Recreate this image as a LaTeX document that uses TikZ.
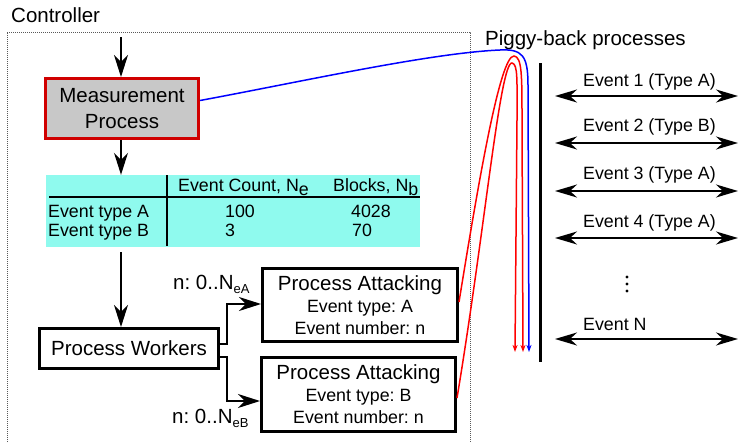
\documentclass[tikz,border=0pt]{standalone}
\usepackage{fontspec}
\setmainfont{Liberation Sans}
\usetikzlibrary{arrows.meta}
\frenchspacing

\definecolor{tablecyan}{RGB}{143,250,238}
\definecolor{procgray}{RGB}{200,200,200}
\definecolor{boxred}{RGB}{208,0,0}

\newcommand{\lblbig}{\fontsize{20.5}{26}\selectfont}
\newcommand{\lblsmall}{\fontsize{17.8}{22}\selectfont}
\newcommand{\lblsub}[1]{{\fontsize{13}{13}\selectfont\raisebox{-4pt}{#1}}}
\newcommand{\lowsub}[1]{\raisebox{-4pt}{#1}}

\begin{document}
\begin{tikzpicture}[x=1pt,y=-1pt,
  frame/.style={draw, line width=3pt, inner sep=0pt},
  flow/.style={-{Stealth[length=22pt,width=14pt,inset=7pt]}, line width=1.5pt},
  evarrow/.style={{Stealth[length=22pt,width=13pt,inset=7pt]}-{Stealth[length=22pt,width=13pt,inset=7pt]}, line width=2pt},
  piggy/.style={line width=1.5pt, -{Stealth[length=7pt,width=5pt,inset=2pt]}},
  txt/.style={anchor=base west, inner sep=0pt, font=\lblsmall},
  bigtxt/.style={anchor=base west, inner sep=0pt, font=\lblbig}]
\useasboundingbox (0,0) rectangle (739,442);

% controller frame
\draw[line width=1pt, gray!70!black, dash pattern=on 1pt off 1pt] (7,446) |- (470,32) -- (470,446);
\node[bigtxt] (ctl) at (11,22) {Controller};

% measurement process
\coordinate (in) at (121,37);
\node[frame, draw=boxred, fill=procgray, minimum width=153pt, minimum height=60pt,
      align=center, font=\lblbig] (mp) at (122,108.5) {Measurement\\Process};
\draw[flow] (in) -- (in |- mp.north);

% event table
\node[fill=tablecyan, minimum width=374pt, minimum height=72pt, inner sep=0pt] (tab) at (233,211) {};
\draw[line width=1.5pt] (167,175) -- (167,246);
\draw[line width=1.5pt] (49,197) -- (420,197);
\node[txt] (h1) at (178,191) {Event Count, N\lowsub{e}};
\node[txt] (h2) at (333,191) {Blocks, N\lowsub{b}};
\node[txt] (ra) at (48,217) {Event type A};
\node[txt] (rb) at (48,236) {Event type B};
\node[txt] (ca) at (225,217) {100};
\node[txt] (cb) at (225,236) {3};
\node[txt] (ba) at (351,217) {4028};
\node[txt] (bb) at (352,236) {70};
\draw[flow] (in |- mp.south) -- (in |- tab.north);

% workers
\node[frame, minimum width=179pt, minimum height=40pt, font=\lblbig] (pw) at (129,348.5) {Process Workers};
\draw[flow] ([yshift=-5pt]tab.south -| in) -- ([xshift=-8pt]pw.north);

\node[frame, minimum width=195pt, minimum height=73pt, align=center, font=\lblsmall] (pa) at (360,305)
  {{\lblbig Process Attacking}\\Event type: A\\Event number: n};
\node[frame, minimum width=194pt, minimum height=74pt, align=center, font=\lblsmall] (pb) at (358.5,394.5)
  {{\lblbig Process Attacking}\\Event type: B\\Event number: n};

\draw[flow] ([yshift=4.5pt]pw.east) -- ++(7,0) |- ([yshift=1pt]pa.west);
\draw[flow] ([yshift=-8.5pt]pw.east) -- ++(7,0) |- ([yshift=-6.5pt]pb.west);
\node[bigtxt] (na) at (173,289) {n: 0..N\lblsub{eA}};
\node[bigtxt] (nb) at (172,423) {n: 0..N\lblsub{eB}};

% piggy-back processes
\node[bigtxt] (pbp) at (485,45) {Piggy-back processes};
\coordinate (redBEnd) at (515,352);
\coordinate (redAEnd) at (523,352);
\coordinate (bluEnd) at (529,352);
\draw[piggy, blue] ([yshift=8pt]mp.east) .. controls (300,82) and (430,53) .. (500,50)
  .. controls (522,49) and (528,55) .. (528,85) -- (bluEnd);
\draw[piggy, red] ([yshift=3pt]pa.east) .. controls (478,185) and (500,55) .. (514,56)
  .. controls (522,57) and (522,75) .. (522,120) -- (redAEnd);
\draw[piggy, red] ([yshift=-3.5pt]pb.east) .. controls (485,230) and (500,62) .. (512,63)
  .. controls (518,64) and (517,80) .. (517,120) -- (redBEnd);

\draw[line width=3pt] (540,63) -- (540,362);

% events
\foreach \i/\y/\b/\t in {1/96/86/Event 1 (Type A), 2/143/131/Event 2 (Type B),
                         3/191/179/Event 3 (Type A), 4/238/227/Event 4 (Type A),
                         N/339/330/Event N}{
  \coordinate (ev\i l) at (555,\y);
  \coordinate (ev\i r) at (738,\y);
  \draw[evarrow] (ev\i l) -- (ev\i r);
  \node[txt] (evl\i) at (583,\b) {\t};
}
\foreach \y in {277,284,291}{\fill (627,\y) circle (1.6pt);}
\end{tikzpicture}
\end{document}
